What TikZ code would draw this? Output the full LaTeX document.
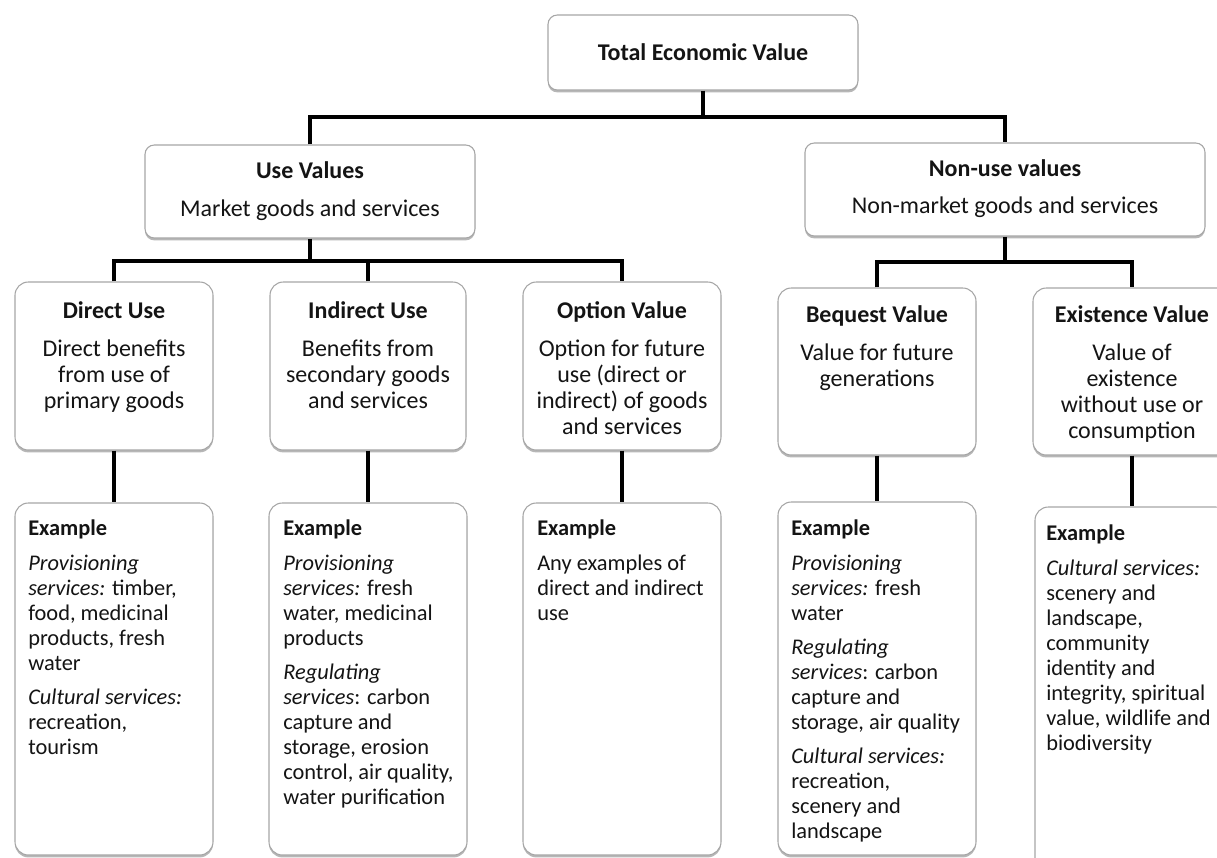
\documentclass[tikz,border=0pt]{standalone}
\usepackage{fontspec}
\setmainfont{Carlito}
\usetikzlibrary{fit,shadows}
\begin{document}
\begin{tikzpicture}[x=0.75pt,y=-0.75pt,
  box/.style={draw=black!35, line width=0.8pt, rounded corners=10pt, fill=white, inner sep=0pt,
    drop shadow={shadow xshift=0pt, shadow yshift=-1.8pt, opacity=0.4, fill=black!70}},
  tbox/.style={box, rounded corners=7pt},
  conn/.style={line width=2.3pt, black},
  ttl/.style={font=\fontsize{18}{19.5}\selectfont, align=center, anchor=north, inner sep=0pt, text=black!92},
  ex/.style={font=\fontsize{16.8}{18.75}\selectfont, align=left, anchor=north west, inner sep=0pt, text=black!92},
]
\useasboundingbox (0,0) rectangle (1217,857);
\clip (0,0) rectangle (1217,857);
\fill[white] (0,0) rectangle (1217,857);

% boxes
\node[tbox, fit={(548,15)(858,90)}] (tev) {};
\node[tbox, fit={(145,145)(475,238)}] (use) {};
\node[tbox, fit={(805,143)(1205,236)}] (nonuse) {};
\node[box, fit={(15,282)(213,450)}] (direct) {};
\node[box, fit={(270,282)(466,450)}] (indirect) {};
\node[box, fit={(523,282)(721,450)}] (option) {};
\node[box, fit={(778,288)(976,455)}] (bequest) {};
\node[box, fit={(1033,288)(1231,455)}] (existence) {};
\node[box, fit={(15,503)(213,855)}] (exdirect) {};
\node[box, fit={(269,503)(467,855)}] (exindirect) {};
\node[box, fit={(523,503)(721,855)}] (exoption) {};
\node[box, fit={(778,502)(976,855)}] (exbequest) {};
\node[box, fit={(1035,507)(1229,880)}] (exexist) {};

% connectors
\coordinate (j0) at (703,117);
\coordinate (j1) at (310,261);
\coordinate (j2) at (1005,262);
\draw[conn] (tev.south) -- (j0);
\draw[conn] (use.north) |- (j0) -| (nonuse.north);
\draw[conn] (use.south) -- (j1);
\draw[conn] (direct.north) |- (j1) -| (option.north);
\draw[conn] (indirect.north) -- (indirect.north |- j1);
\draw[conn] (nonuse.south) -- (j2);
\draw[conn] (bequest.north) |- (j2) -| (existence.north);
\draw[conn] (direct.south) -- (exdirect.north);
\draw[conn] (indirect.south) -- (exindirect.north);
\draw[conn] (option.south) -- (exoption.north);
\draw[conn] (bequest.south) -- (exbequest.north);
\draw[conn] (existence.south) -- (exexist.north);

% texts
\node[ttl, anchor=center, font=\fontsize{18}{19.5}\selectfont\bfseries] (tevt) at (703,52) {Total Economic Value};
\node[ttl] (uset) at (310,161) {\textbf{Use Values}\\[9pt]Market goods and services};
\node[ttl] (nonuset) at (1005,159) {\textbf{Non-use values}\\[8.5pt]Non-market goods and services};
\node[ttl] (directt) at (114,301) {\textbf{Direct Use}\\[9pt]Direct benefits\\from use of\\primary goods};
\node[ttl] (indirectt) at (368,301) {\textbf{Indirect Use}\\[9pt]Benefits from\\secondary goods\\and services};
\node[ttl] (optiont) at (622,301) {\textbf{Option Value}\\[9pt]Option for future\\use (direct or\\indirect) of goods\\and services};
\node[ttl] (bequestt) at (877,305) {\textbf{Bequest Value}\\[9pt]Value for future\\generations};
\node[ttl] (existencet) at (1132,305) {\textbf{Existence Value}\\[9pt]Value of\\existence\\without use or\\consumption};

\node[ex] (exdirectt) at (28,520) {\textbf{Example}\\[7.5pt]
  \textit{Provisioning}\\\textit{services:} timber,\\food, medicinal\\products, fresh\\water\\[6.75pt]
  \textit{Cultural services:}\\recreation,\\tourism};
\node[ex] (exindirectt) at (283,520) {\textbf{Example}\\[7.5pt]
  \textit{Provisioning}\\\textit{services:} fresh\\water, medicinal\\products\\[6.75pt]
  \textit{Regulating}\\\textit{services}: carbon\\capture and\\storage, erosion\\control, air quality,\\water purification};
\node[ex] (exoptiont) at (537,520) {\textbf{Example}\\[7.5pt]
  Any examples of\\direct and indirect\\use};
\node[ex] (exbequestt) at (791,520) {\textbf{Example}\\[7.5pt]
  \textit{Provisioning}\\\textit{services:} fresh\\water\\[6.75pt]
  \textit{Regulating}\\\textit{services}: carbon\\capture and\\storage, air quality\\[6.75pt]
  \textit{Cultural services:}\\recreation,\\scenery and\\landscape};
\node[ex] (exexistt) at (1046,525) {\textbf{Example}\\[7.5pt]
  \textit{Cultural services:}\\scenery and\\landscape,\\community\\identity and\\integrity, spiritual\\value, wildlife and\\biodiversity};
\end{tikzpicture}
\end{document}
